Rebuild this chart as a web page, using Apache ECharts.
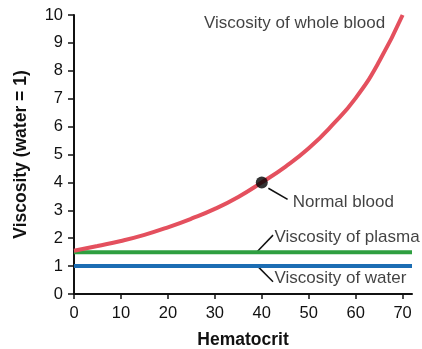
<!DOCTYPE html>
<html>
<head>
<meta charset="utf-8">
<script src="https://cdn.jsdelivr.net/npm/echarts@6/dist/echarts.min.js"></script>
<style>
  html, body { margin: 0; padding: 0; background: #fff; }
  #chart { width: 422px; height: 349px; }
</style>
</head>
<body>
<div id="chart"></div>
<script>
// Hematocrit (%) sample points and relative viscosity of whole blood
const hematocrit = [0, 5, 10, 15, 20, 25, 30, 35, 40, 45, 50, 55, 60, 65, 70];
const wholeBlood = [1.55, 1.72, 1.9, 2.12, 2.39, 2.7, 3.05, 3.48, 4.0, 4.56, 5.22, 6.05, 7.02, 8.33, 10.0];
const plasmaViscosity = 1.5;
const waterViscosity = 1.0;
const normalBlood = [40, 4];
const xTicks = [0, 10, 20, 30, 40, 50, 60, 70];
const xEnd = 72;

const FONT = 'Liberation Sans, Arial, Helvetica, sans-serif';
const RED = '#E4505E', GREEN = '#2E9F40', BLUE = '#1C6DB3';

const chart = echarts.init(document.getElementById('chart'));

const labelStyle = { show: true, position: 'right', distance: 0, color: '#111', fontSize: 17, fontFamily: FONT, formatter: p => p.data.text };

chart.setOption({
  animation: false,
  grid: { left: 74, right: 10, top: 15, bottom: 55, containLabel: false, outerBoundsMode: 'none' },
  xAxis: {
    type: 'value', min: 0, max: xEnd, interval: 10,
    name: 'Hematocrit', nameLocation: 'middle', nameGap: 37,
    nameTextStyle: { fontFamily: FONT, fontWeight: 'bold', fontSize: 17.5, color: '#111' },
    axisLine: { lineStyle: { color: '#111', width: 2 } },
    axisTick: { show: true, length: 5, lineStyle: { color: '#111', width: 1.5 } },
    axisLabel: { fontFamily: FONT, fontSize: 16.5, color: '#111', margin: 11, showMaxLabel: false,
      formatter: v => xTicks.includes(v) ? String(v) : '' },
    splitLine: { show: false }
  },
  yAxis: {
    type: 'value', min: 0, max: 10, interval: 1,
    name: 'Viscosity (water = 1)', nameLocation: 'middle', nameGap: 44, nameRotate: 90,
    nameTextStyle: { fontFamily: FONT, fontWeight: 'bold', fontSize: 17.5, color: '#111' },
    axisLine: { show: true, lineStyle: { color: '#111', width: 2 } },
    axisTick: { show: true, length: 6, lineStyle: { color: '#111', width: 1.5 } },
    axisLabel: { fontFamily: FONT, fontSize: 16.5, color: '#111', margin: 11 },
    splitLine: { show: false }
  },
  series: [
    {
      name: 'Water', type: 'line', symbol: 'none',
      data: [[0, waterViscosity], [xEnd, waterViscosity]],
      lineStyle: { color: BLUE, width: 4 }
    },
    {
      name: 'Plasma', type: 'line', symbol: 'none',
      data: [[0, plasmaViscosity], [xEnd, plasmaViscosity]],
      lineStyle: { color: GREEN, width: 4 }
    },
    {
      name: 'Whole blood', type: 'line', symbol: 'none', smooth: 0.5,
      data: hematocrit.map((h, i) => [h, wholeBlood[i]]),
      lineStyle: { color: RED, width: 4 }
    },
    {
      // leader lines from curves to their labels
      name: 'Leaders', type: 'lines', coordinateSystem: 'cartesian2d',
      lineStyle: { color: '#111', width: 1.5, opacity: 1 },
      data: [
        { coords: [[41.4, 3.79], [45.5, 3.39]] },
        { coords: [[38.9, plasmaViscosity], [42.4, 2.11]] },
        { coords: [[39.1, waterViscosity], [42.4, 0.44]] }
      ]
    },
    {
      name: 'Normal blood', type: 'scatter', symbolSize: 12,
      itemStyle: { color: '#000' },
      data: [normalBlood], z: 5
    },
    {
      name: 'Labels', type: 'scatter', symbolSize: 0, label: labelStyle,
      data: [
        { value: [27.7, 9.71], text: 'Viscosity of whole blood' },
        { value: [46.6, 3.3], text: 'Normal blood' },
        { value: [42.7, 2.03], text: 'Viscosity of plasma' },
        { value: [42.7, 0.56], text: 'Viscosity of water' }
      ]
    }
  ]
});
</script>
</body>
</html>
